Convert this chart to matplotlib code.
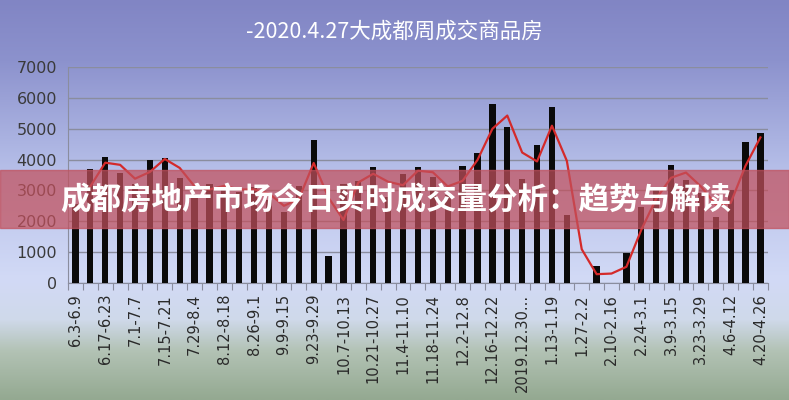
import numpy as np
import matplotlib
matplotlib.use("Agg")
import matplotlib.pyplot as plt
from matplotlib.colors import LinearSegmentedColormap

plt.rcParams['font.family'] = ['DejaVu Sans', 'Noto Sans CJK SC']

# 周成交量（套），2019.6.3 - 2020.4.26，共47周
volumes = [2560, 3700, 4090, 3560, 3200, 3990, 4040, 3410, 2850, 3200,
           3100, 2950, 3100, 2700, 2300, 3150, 4630, 880, 3200, 3320,
           3760, 2800, 3530, 3750, 3420, 2840, 3780, 4200, 5790, 5070,
           3380, 4490, 5720, 2190, 0, 550, 0, 980, 2460, 3000,
           3820, 3340, 2920, 2150, 3020, 4570, 4870]
# 2周移动平均趋势线（第一周没有）
trend = [np.nan, 3130, 3900, 3830, 3380, 3600, 4020, 3730, 3130, 3030,
         3150, 3030, 3030, 2900, 2500, 2720, 3890, 2760, 2040, 3260,
         3540, 3280, 3170, 3640, 3590, 3130, 3310, 3990, 5000, 5430,
         4230, 3940, 5100, 3960, 1090, 280, 300, 520, 1720, 2730,
         3410, 3580, 3130, 2540, 2590, 3800, 4720]
# 每隔一周显示的x轴标签
week_labels = ["6.3-6.9", "6.17-6.23", "7.1-7.7", "7.15-7.21", "7.29-8.4",
               "8.12-8.18", "8.26-9.1", "9.9-9.15", "9.23-9.29", "10.7-10.13",
               "10.21-10.27", "11.4-11.10", "11.18-11.24", "12.2-12.8",
               "12.16-12.22", "2019.12.30...", "1.13-1.19", "1.27-2.2",
               "2.10-2.16", "2.24-3.1", "3.9-3.15", "3.23-3.29", "4.6-4.12",
               "4.20-4.26"]

title = "-2020.4.27大成都周成交商品房"
banner = "成都房地产市场今日实时成交量分析：趋势与解读"

fig = plt.figure(figsize=(7.89, 4.0), dpi=100)

# 背景渐变
bg = fig.add_axes([0, 0, 1, 1], zorder=-10)
cmap = LinearSegmentedColormap.from_list("bg", [
    (0.0, "#8185c4"), (0.15, "#8c92cd"), (0.45, "#bac3eb"),
    (0.7, "#d2daf6"), (0.8, "#cfd9ea"), (0.88, "#b2c2b4"), (1.0, "#94a991")])
grad = np.linspace(0, 1, 256).reshape(-1, 1)
bg.imshow(grad, cmap=cmap, aspect="auto", extent=[0, 1, 0, 1], origin="upper")
bg.axis("off")

ax = fig.add_axes([0.0862, 0.293, 0.887, 0.539])
ax.patch.set_alpha(0)
x = np.arange(len(volumes))
ax.bar(x, volumes, width=0.42, color="#0a0a0a", zorder=3)
ax.plot(x, trend, color="#d42a2a", lw=1.6, zorder=4)

ax.set_xlim(-0.5, len(volumes) - 0.5)
ax.set_ylim(0, 7000)
ax.set_yticks(range(0, 7001, 1000))
ax.yaxis.grid(True, color="#8a8d9e", lw=1.0)
ax.set_axisbelow(True)
ax.tick_params(axis="y", length=0, labelsize=11.5, labelcolor="#3a3a3a", pad=8)

ax.set_xticks(np.arange(-0.5, len(volumes), 1), minor=False)
ax.set_xticklabels([])
ax.tick_params(axis="x", which="major", direction="out", length=5, color="#8a8d9e")
ax.set_xticks(x[::2], minor=True)
ax.set_xticklabels(week_labels, minor=True, rotation=90, fontsize=10.5,
                   color="#2a2a2a")
ax.tick_params(axis="x", which="minor", length=0, pad=8)

for s in ["top", "right"]:
    ax.spines[s].set_visible(False)
ax.spines["left"].set_color("#8a8d9e")
ax.spines["bottom"].set_color("#8a8d9e")

fig.text(0.50, 0.92, title, ha="center", va="center", color="white",
         fontsize=15.5, fontweight="medium", family=["Noto Sans CJK SC"])

# 红色横幅
fig.patches.append(plt.Rectangle((0, 1 - 228 / 400), 1, 58 / 400,
                                 transform=fig.transFigure,
                                 color="#c2505c", alpha=0.72, zorder=5))
fig.text(0.502, 1 - 200 / 400, banner, ha="center", va="center", color="white",
         fontsize=22, fontweight="bold", family=["Noto Sans CJK SC"], zorder=6)

fig.savefig("out.png", dpi=100)
